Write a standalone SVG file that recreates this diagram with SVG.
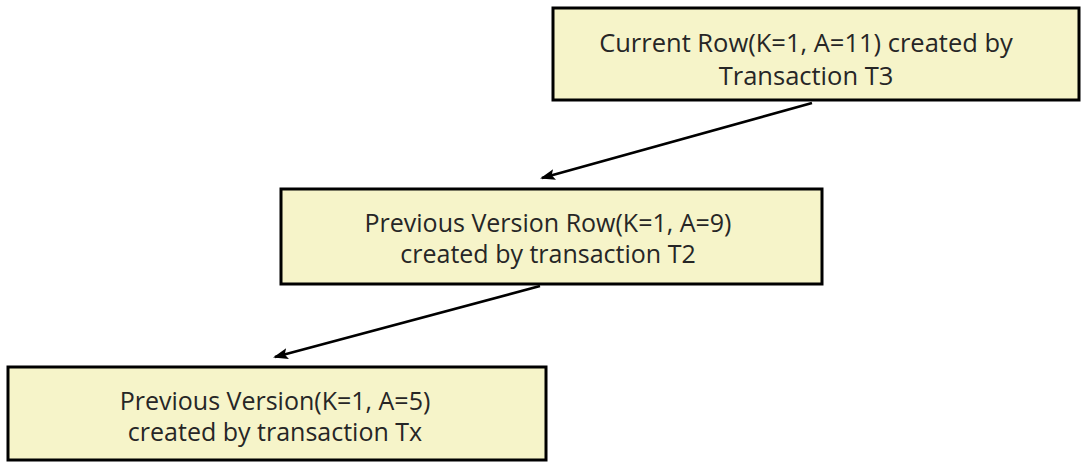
<svg xmlns="http://www.w3.org/2000/svg" width="1084" height="462" viewBox="0 0 1084 462">
<style>
.box{fill:#F6F4C9;stroke:#000;stroke-width:3}
.t{font-family:"Open Sans","Noto Sans","Liberation Sans",sans-serif;font-size:25px;fill:#262626;text-anchor:middle}
.t1{font-size:25.5px}
.c{stroke:#000;stroke-width:2.6;fill:none;marker-end:url(#ah)}
</style>
<defs>
<marker id="ah" markerWidth="15" markerHeight="11" refX="13" refY="5.5" orient="auto" markerUnits="userSpaceOnUse">
<path d="M0,0 L15,5.5 L0,11 L3,5.5 Z" fill="#000"/>
</marker>
</defs>
<rect width="1084" height="462" fill="#fff"/>
<g id="n1">
<rect class="box" x="553" y="8" width="526" height="92"/>
<text class="t t1" x="806" y="52">Current Row(K=1, A=11) created by</text>
<text class="t t1" x="806" y="85">Transaction T3</text>
</g>
<g id="n2">
<rect class="box" x="281" y="189" width="541" height="95"/>
<text class="t" x="548" y="232">Previous Version Row(K=1, A=9)</text>
<text class="t" x="548" y="263">created by transaction T2</text>
</g>
<g id="n3">
<rect class="box" x="8" y="367" width="538" height="93"/>
<text class="t" x="275" y="410">Previous Version(K=1, A=5)</text>
<text class="t" x="275" y="441">created by transaction Tx</text>
</g>
<g id="connectors">
<line class="c" x1="812" y1="103" x2="542" y2="178"/>
<line class="c" x1="540" y1="286" x2="275" y2="357"/>
</g>
</svg>
